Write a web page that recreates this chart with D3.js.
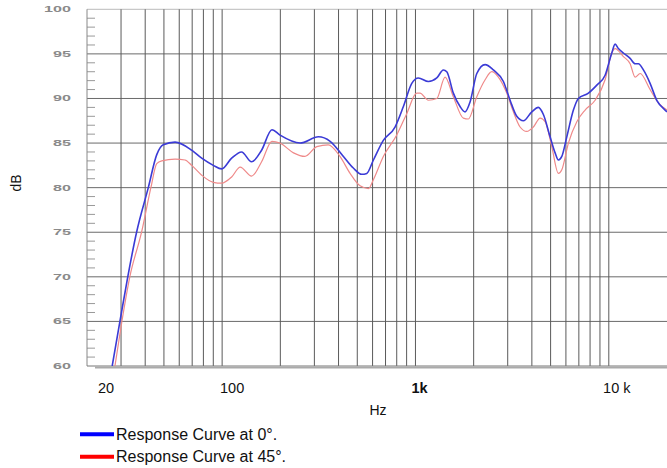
<!DOCTYPE html>
<html><head><meta charset="utf-8">
<script src="https://cdn.jsdelivr.net/npm/d3@7"></script>
<style>
html,body{margin:0;padding:0;background:#fff;}
svg{display:block;font-family:"Liberation Sans",Arial,sans-serif;}
</style></head>
<body><svg id="chart" width="667" height="468"></svg>
<script>
// ---- data ----
const freq0 = [27.0,29.6,32.5,36.1,41.5,45.9,49.6,57.1,69.6,78.4,90.0,99.5,112,126,142,160,181,199,253,315,362,424,477,527,560,606,682,784,866,957,1035,1166,1289,1394,1452,1570,1701,1805,1916,2076,2292,2530,2850,3086,3342,3616,3996,4322,4588,4970,5276,5488,5714,6064,6560,6960,7844,8670,9570,10360,10780,11210,11900,12890,13680,14230,15100,16350,17710,19550,20000];
const db0 = [60,65,70,75,80,83.7,84.8,85.1,84.2,83.3,82.5,82.1,83.3,84.0,82.9,84.2,86.5,85.9,85.0,85.7,85.2,83.5,82.2,81.5,81.6,83.1,85.3,86.8,89.1,91.7,92.3,91.9,92.3,93.2,93.0,90.6,89.1,88.5,89.6,92.8,93.8,93.2,91.9,89.8,88.0,87.5,88.5,89.0,88.2,85.7,83.9,83.1,83.5,85.7,88.7,90.0,90.6,91.5,92.6,95.1,96.1,95.6,95.1,94.5,93.9,93.9,93.2,91.7,89.8,88.7,88.5];
const freq45 = [27.9,30.3,33.3,38.3,42.8,45.9,48.7,57.1,64.3,69.6,78.4,90.0,99.5,112,124,142,160,181,199,234,268,309,354,407,459,517,571,606,682,800,901,1015,1056,1166,1289,1423,1570,1769,1878,2076,2292,2482,2684,2966,3210,3476,3766,4074,4412,4682,5070,5488,5714,6180,6832,7542,8496,9570,10360,10780,11900,12890,13680,14520,16350,18050,20000];
const db45 = [60,65,70,75,80,82.7,83.0,83.2,83.1,82.5,81.4,80.6,80.5,81.2,82.3,81.3,82.9,85.2,85.0,83.9,83.5,84.6,84.8,83.5,81.6,80.2,79.9,80.9,83.5,85.9,88.3,90.6,90.6,89.8,90.0,92.4,90.2,87.8,87.7,90.2,92.1,93.0,92.4,90.6,88.5,86.8,86.3,86.8,87.8,87.4,84.6,81.6,82.0,85.0,87.4,88.7,89.8,92.1,95.1,95.6,94.7,93.9,92.4,92.8,91.0,89.5,88.7];
const gridFreqs = [30,40,50,60,70,80,90,100,200,300,400,500,600,700,800,900,1000,2000,3000,4000,5000,6000,7000,8000,9000,10000];
const xTickValues = [20,100,1000,10000];
const xTickLabels = ["20","100","1k","10 k"];
const yTickValues = [60,65,70,75,80,85,90,95,100];
const seriesNames = ["Response Curve at 0°.","Response Curve at 45°."];
const seriesColors = ["#0000ff","#ff0000"];

// ---- layout ----
const svg = d3.select("#chart");
const L = 87, R = 667, T = 9.3, B = 366;
const x = d3.scaleLog().domain([20,20000]).range([L,R]);
const y = d3.scaleLinear().domain([60,100]).range([B,T]);

svg.append("defs").append("clipPath").attr("id","plotclip")
  .append("rect").attr("x",L).attr("y",T).attr("width",R-L).attr("height",B-T);

// horizontal grid
svg.append("g").selectAll("line").data(yTickValues.filter(v=>v>60)).join("line")
  .attr("x1",L).attr("x2",R).attr("y1",d=>y(d)).attr("y2",d=>y(d))
  .attr("stroke",d=>d===100?"#bbb":"#6a6a6a").attr("stroke-width",1);

// vertical grid
svg.append("g").selectAll("line").data(gridFreqs).join("line")
  .attr("x1",d=>x(d)).attr("x2",d=>x(d)).attr("y1",T).attr("y2",B)
  .attr("stroke","#5a5a5a").attr("stroke-width",1);

// minor y ticks
const minor = d3.range(61,100).filter(v=>v%5!==0);
svg.append("g").selectAll("line").data(minor).join("line")
  .attr("x1",L).attr("x2",L+8).attr("y1",d=>y(d)).attr("y2",d=>y(d))
  .attr("stroke","#999").attr("stroke-width",1);

// left axis line
svg.append("line").attr("x1",L).attr("x2",L).attr("y1",T).attr("y2",B)
  .attr("stroke","#888").attr("stroke-width",1);
// bottom axis line
svg.append("line").attr("x1",L).attr("x2",R).attr("y1",B).attr("y2",B)
  .attr("stroke","#777").attr("stroke-width",1);
svg.append("line").attr("x1",L+8).attr("x2",R).attr("y1",B+1.5).attr("y2",B+1.5)
  .attr("stroke","#aaa").attr("stroke-width",2);

// y tick labels (stretched gray)
svg.append("g").selectAll("text").data(yTickValues).join("text")
  .attr("x",d=>71-String(d).length*9).attr("y",d=>y(d)+3)
  .attr("textLength",d=>String(d).length*9).attr("lengthAdjust","spacingAndGlyphs")
  .attr("font-size",8.5).attr("font-weight","bold").attr("fill","#8a8a8a")
  .text(d=>d);

// x tick labels
const xOff = {20:19,100:10,1000:4,10000:8};
svg.append("g").selectAll("text").data(xTickValues).join("text")
  .attr("x",d=>x(d)+xOff[d]).attr("y",393)
  .attr("text-anchor","middle").attr("font-size",14.5)
  .attr("font-weight",(d,i)=>xTickLabels[i]==="1k"?"bold":"normal")
  .attr("fill","#111")
  .text((d,i)=>xTickLabels[i]);

svg.append("text").attr("x",378).attr("y",415).attr("text-anchor","middle")
  .attr("font-size",14).attr("fill","#111").text("Hz");
svg.append("text").attr("transform","translate(21,183) rotate(-90)")
  .attr("text-anchor","middle").attr("font-size",14).attr("fill","#111").text("dB");

// curves
const line = d3.line().x(d=>x(d[0])).y(d=>y(d[1])).curve(d3.curveMonotoneX);
const plot = svg.append("g").attr("clip-path","url(#plotclip)");
plot.append("path").datum(d3.zip(freq45,db45)).attr("d",line)
  .attr("fill","none").attr("stroke","#ef8a8a").attr("stroke-width",1.2);
plot.append("path").datum(d3.zip(freq0,db0)).attr("d",line)
  .attr("fill","none").attr("stroke","#3b3bd6").attr("stroke-width",1.6);

// legend
const lg = svg.append("g").selectAll("g").data(seriesNames).join("g")
  .attr("transform",(d,i)=>`translate(80,${434.3+i*22.4})`);
lg.append("line").attr("x1",0).attr("x2",34).attr("y1",0).attr("y2",0)
  .attr("stroke",(d,i)=>seriesColors[i]).attr("stroke-width",4);
lg.append("text").attr("x",36).attr("y",5.5).attr("font-size",16).attr("fill","#111").text(d=>d);
</script></body></html>
